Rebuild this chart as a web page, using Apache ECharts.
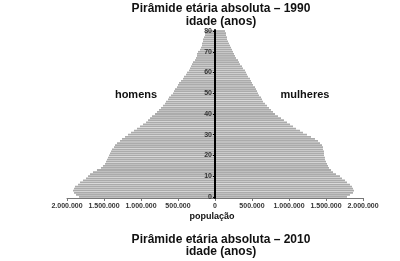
<!DOCTYPE html>
<html>
<head>
<meta charset="utf-8">
<script src="https://cdn.jsdelivr.net/npm/echarts@6/dist/echarts.min.js"></script>
<style>html,body{margin:0;padding:0;background:#fff}#c{width:400px;height:261px}</style>
</head>
<body>
<div id="c"></div>
<script>
// ages 0..80
const ages = Array.from({length: 81}, (_, i) => String(i));
// homens (men), population by age 0..80
const homens = [1838000,1878000,1905000,1919000,1905000,1892000,1851000,1824000,1784000,1743000,
1716000,1689000,1649000,1595000,1541000,1514000,1486000,1473000,1459000,1446000,
1432000,1419000,1405000,1392000,1365000,1351000,1324000,1284000,1257000,1216000,
1176000,1135000,1095000,1054000,1014000,973000,932000,905000,878000,851000,
811000,784000,757000,730000,703000,676000,662000,635000,622000,595000,
568000,554000,541000,514000,500000,486000,459000,432000,419000,392000,
378000,351000,338000,324000,311000,297000,270000,257000,243000,243000,
230000,203000,189000,176000,176000,162000,162000,149000,135000,135000,122000];
// mulheres (women), population by age 0..80
const mulheres = [1784000,1824000,1865000,1878000,1865000,1851000,1824000,1784000,1757000,1716000,
1689000,1635000,1595000,1568000,1541000,1527000,1514000,1500000,1486000,1486000,
1473000,1473000,1473000,1459000,1459000,1446000,1419000,1392000,1351000,1297000,
1243000,1189000,1149000,1095000,1054000,1014000,973000,932000,892000,851000,
811000,784000,757000,730000,703000,676000,649000,635000,622000,595000,
581000,568000,554000,541000,514000,500000,486000,473000,446000,432000,
419000,405000,378000,365000,338000,324000,311000,284000,270000,257000,
243000,230000,216000,203000,189000,176000,162000,162000,149000,149000,135000];
const xTicks = [-2000000, 2000000, 500000];

const chart = echarts.init(document.getElementById('c'), null, {renderer: 'canvas'});
const fmt = v => Math.abs(v).toString().replace(/\B(?=(\d{3})+(?!\d))/g, '.');
const F = '"Liberation Sans", Arial, sans-serif';
chart.setOption({
  animation: false,
  grid: {left: 67, right: 37, top: 30, bottom: 63, containLabel: false},
  xAxis: {
    type: 'value', min: xTicks[0], max: xTicks[1], interval: xTicks[2],
    splitLine: {show: false},
    axisLine: {show: true, lineStyle: {color: '#777', width: 1}},
    axisTick: {show: true, length: 3, lineStyle: {color: '#777'}},
    axisLabel: {formatter: fmt, fontFamily: F, fontSize: 7, fontWeight: 'bold', color: '#333', margin: 5}
  },
  yAxis: {
    type: 'category', data: ages, offset: -148,
    axisLine: {show: true, onZero: false, lineStyle: {color: '#000', width: 2}},
    axisTick: {show: true, alignWithLabel: true, length: 2, interval: (i) => i % 10 === 0, lineStyle: {color: '#000'}},
    axisLabel: {interval: (i) => i % 10 === 0, fontFamily: F, fontSize: 7, fontWeight: 'bold', color: '#333', margin: 3, padding: [0, 0, 4, 0]},
    z: 10
  },
  series: [
    {name: 'homens', type: 'bar', data: homens.map(v => -v), barGap: '-100%', barCategoryGap: '15%',
     itemStyle: {color: '#ababab'}, silent: true},
    {name: 'mulheres', type: 'bar', data: mulheres, barGap: '-100%', barCategoryGap: '15%',
     itemStyle: {color: '#ababab'}, silent: true}
  ],
  graphic: [
    {type: 'text', style: {text: 'Pirâmide etária absoluta – 1990', font: 'bold 12px ' + F, fill: '#111', textAlign: 'center', textVerticalAlign: 'middle'}, position: [221, 9]},
    {type: 'text', style: {text: 'idade (anos)', font: 'bold 12px ' + F, fill: '#111', textAlign: 'center', textVerticalAlign: 'middle'}, position: [221, 21.5]},
    {type: 'text', style: {text: 'homens', font: 'bold 11px ' + F, fill: '#111', textAlign: 'center', textVerticalAlign: 'middle'}, position: [136, 95]},
    {type: 'text', style: {text: 'mulheres', font: 'bold 11px ' + F, fill: '#111', textAlign: 'center', textVerticalAlign: 'middle'}, position: [305, 95]},
    {type: 'text', style: {text: 'população', font: 'bold 9px ' + F, fill: '#111', textAlign: 'center', textVerticalAlign: 'middle'}, position: [212, 217]},
    {type: 'text', style: {text: 'Pirâmide etária absoluta – 2010', font: 'bold 12px ' + F, fill: '#111', textAlign: 'center', textVerticalAlign: 'middle'}, position: [221, 240]},
    {type: 'text', style: {text: 'idade (anos)', font: 'bold 12px ' + F, fill: '#111', textAlign: 'center', textVerticalAlign: 'middle'}, position: [221, 252]}
  ]
});
</script>
</body>
</html>
